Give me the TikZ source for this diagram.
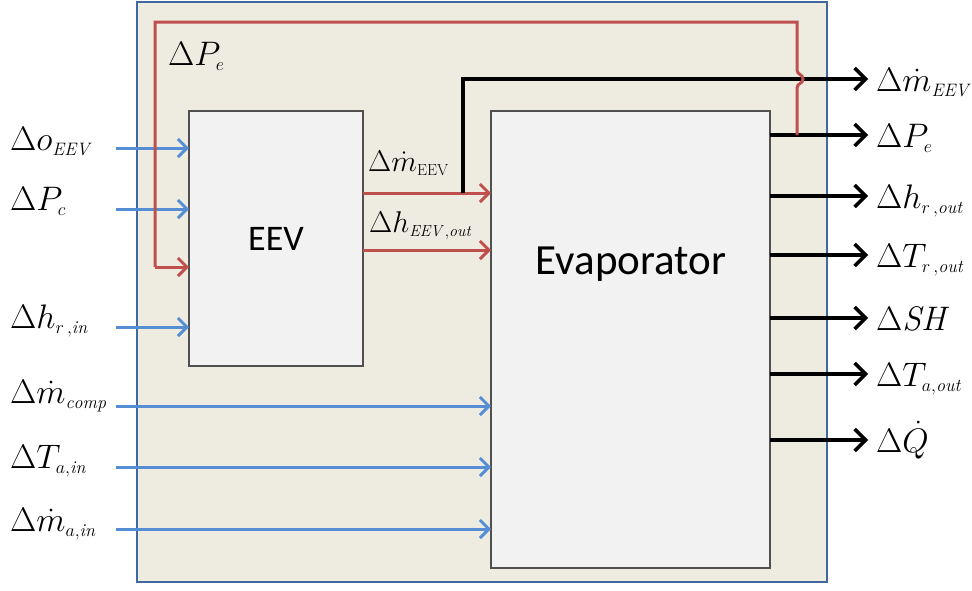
\RequirePackage{fix-cm}
\documentclass[tikz,border=0pt]{standalone}
\usepackage{fontspec}
\newfontfamily\boxfont{Carlito}
\usetikzlibrary{arrows.meta}

\definecolor{panel}{HTML}{EEECE1}
\definecolor{frame}{HTML}{41699E}
\definecolor{boxfill}{HTML}{F2F2F2}
\definecolor{boxline}{HTML}{505050}
\definecolor{inblue}{HTML}{558ED5}
\definecolor{fbred}{HTML}{C0504D}

% large signal names with small subscripts
\DeclareMathSizes{34}{34}{18}{13}
\DeclareMathSizes{30}{30}{16}{12}

\begin{document}
\begin{tikzpicture}[x=1pt,y=-1pt,
  lbl/.style={font=\fontsize{34}{40}\selectfont, inner sep=0pt, anchor=base west},
  smalllbl/.style={font=\fontsize{30}{36}\selectfont, inner sep=0pt, anchor=base west},
  block/.style={draw=boxline, fill=boxfill, line width=1.2, inner sep=0pt, outer sep=0pt,
    anchor=north west},
  blocktext/.style={font=\boxfont\fontsize{36}{40}\selectfont},
  bluearr/.style={draw=inblue, line width=3, -{Straight Barb[length=9,width=18]}},
  redarr/.style={draw=fbred, line width=3, -{Straight Barb[length=9,width=18]}},
  redline/.style={draw=fbred, line width=3},
  outarr/.style={draw=black, line width=3.5, -{Straight Barb[length=11,width=22]}},
]
\useasboundingbox (0,0) rectangle (972,590);

% enclosing panel and the two blocks
\node[draw=frame, fill=panel, line width=2, inner sep=0pt, outer sep=0pt,
  minimum width=690, minimum height=580, anchor=north west] (panel) at (137,2) {};
\node[block, minimum width=174, minimum height=255] (eev) at (189,111) {};
\node[blocktext] (eevtxt) at (eev.center) {EEV};
\node[block, minimum width=279, minimum height=457] (evap) at (491,111) {};
\node[blocktext, font=\boxfont\fontsize{43}{46}\selectfont] (evaptxt) at (631,264) {Evaporator};

% input signals
\coordinate (iO) at (116,148);
\coordinate (iPc) at (116,209);
\coordinate (iH) at (116,327);
\coordinate (iM) at (116,406);
\coordinate (iT) at (116,467);
\coordinate (iMa) at (116,529);
\draw[bluearr] (iO) -- (iO -| eev.west);
\draw[bluearr] (iPc) -- (iPc -| eev.west);
\draw[bluearr] (iH) -- (iH -| eev.west);
\draw[bluearr] (iM) -- (iM -| evap.west);
\draw[bluearr] (iT) -- (iT -| evap.west);
\draw[bluearr] (iMa) -- (iMa -| evap.west);

\node[lbl] (lO) at (10,150) {$\Delta o_{\mathit{EEV}}$};
\node[lbl] (lPc) at (10,210) {$\Delta P_{c}$};
\node[lbl] (lH) at (10,328) {$\Delta h_{r\,,\mathit{in}}$};
\node[lbl] (lM) at (10,403) {$\Delta\dot{m}_{\mathit{comp}}$};
\node[lbl] (lT) at (10,468) {$\Delta T_{a,\mathit{in}}$};
\node[lbl] (lMa) at (10,531) {$\Delta\dot{m}_{a,\mathit{in}}$};

% EEV outputs into the evaporator
\coordinate (eM) at (363,193);
\coordinate (eH) at (363,250);
\draw[redarr] (eM) -- (eM -| evap.west);
\draw[redarr] (eH) -- (eH -| evap.west);
\node[smalllbl] (lEM) at (368,171) {$\Delta\dot{m}_{\mathrm{EEV}}$};
\node[smalllbl] (lEH) at (369,232) {$\Delta h_{\mathit{EEV}\,,\mathit{out}}$};

% mass flow tapped off and sent out
\coordinate (tap) at (463,193);
\coordinate (oM) at (868,79);
\draw[outarr] (tap) -- (tap |- oM) -- (oM);

% evaporator outputs
\coordinate (oP) at (868,135);
\coordinate (oHr) at (868,196);
\coordinate (oTr) at (868,255);
\coordinate (oSH) at (868,318);
\coordinate (oTa) at (868,374);
\coordinate (oQ) at (868,440);
\draw[outarr] (oP -| evap.east) -- (oP);
\draw[outarr] (oHr -| evap.east) -- (oHr);
\draw[outarr] (oTr -| evap.east) -- (oTr);
\draw[outarr] (oSH -| evap.east) -- (oSH);
\draw[outarr] (oTa -| evap.east) -- (oTa);
\draw[outarr] (oQ -| evap.east) -- (oQ);

% pressure feedback to the EEV, hopping over the mass-flow line
\coordinate (fb) at (797,135);
\coordinate (fbIn) at (155,267);
\draw[redline] (fb) -- (797,88)
  .. controls (797,83) and (803,84) .. (803,79)
  .. controls (803,74) and (797,75) .. (797,70)
  -- (797,22) -- (155,22) -- (fbIn);
\draw[redarr] (fbIn) -- (fbIn -| eev.west);
\node[lbl] (lPe) at (168,65) {$\Delta P_{e}$};

% output labels
\node[lbl] (rM) at (876,91) {$\Delta\dot{m}_{\mathit{EEV}}$};
\node[lbl] (rP) at (876,147) {$\Delta P_{e}$};
\node[lbl] (rHr) at (876,208) {$\Delta h_{r\,,\mathit{out}}$};
\node[lbl] (rTr) at (876,267) {$\Delta T_{r\,,\mathit{out}}$};
\node[lbl] (rSH) at (876,330) {$\Delta \mathit{SH}$};
\node[lbl] (rTa) at (876,386) {$\Delta T_{a,\mathit{out}}$};
\node[lbl] (rQ) at (876,452) {$\Delta\dot{Q}$};
\end{tikzpicture}
\end{document}
